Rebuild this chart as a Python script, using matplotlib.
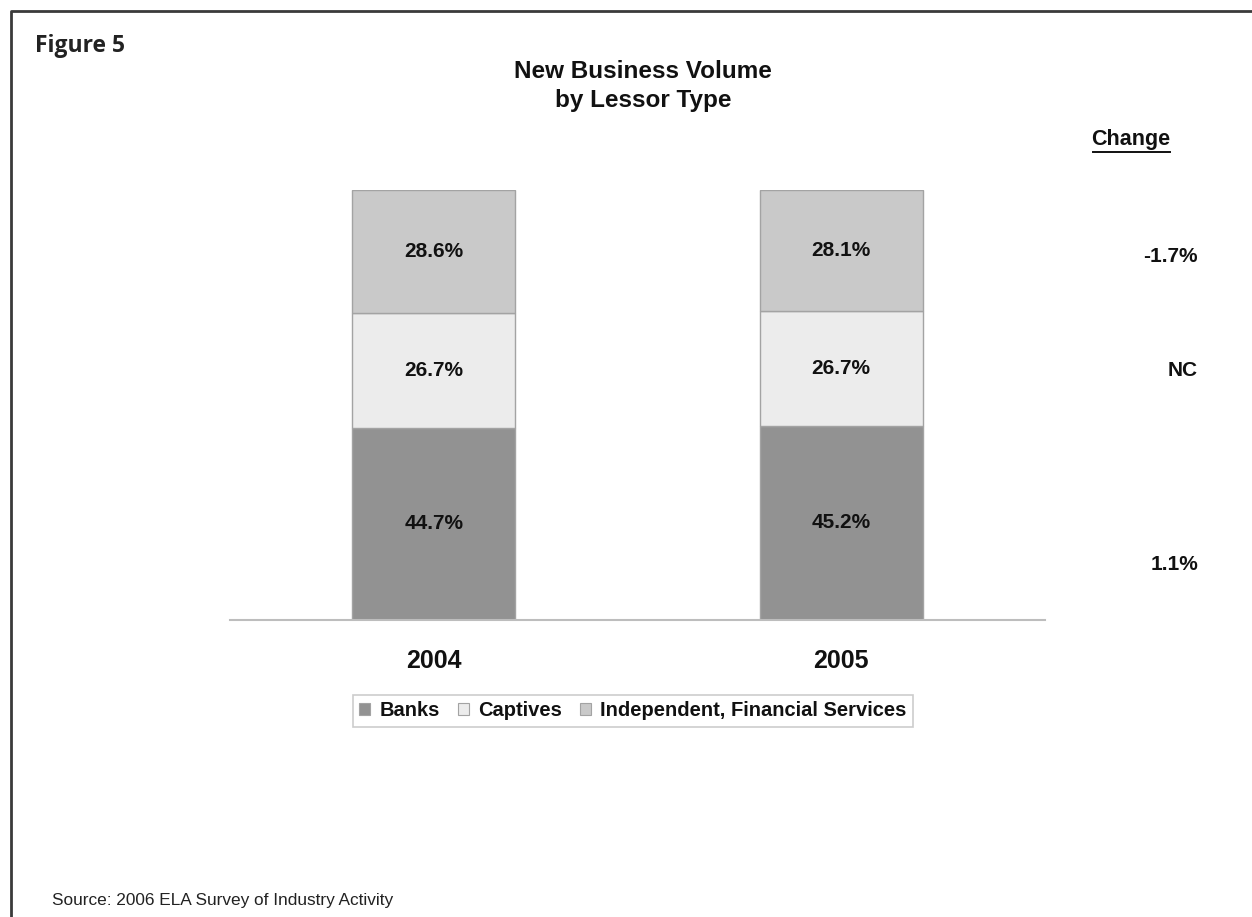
import matplotlib
matplotlib.use('Agg')
import matplotlib.pyplot as plt
from matplotlib.patches import Patch
from matplotlib.lines import Line2D

plt.rcParams['font.family'] = ['Liberation Sans', 'DejaVu Sans']

years = ['2004', '2005']
lessors = ['Banks', 'Captives', 'Independent, Financial Services']
banks = [44.7, 45.2]
captives = [26.7, 26.7]
independent = [28.6, 28.1]
colors = ['#929292', '#ececec', '#c9c9c9']

W, H = 1252, 917
fig = plt.figure(figsize=(W / 100, H / 100), dpi=100)
ax = fig.add_axes([230 / W, 1 - 620 / H, 815 / W, 430 / H])

x = range(len(years))
bottom = [0, 0]
for vals, col in zip([banks, captives, independent], colors):
    ax.bar(x, vals, width=0.40, bottom=bottom, color=col,
           edgecolor='#a3a3a3', linewidth=1.0, zorder=2)
    for i, v in enumerate(vals):
        ax.text(i, bottom[i] + v / 2, f'{v:.1f}%', ha='center', va='center',
                fontsize=15, fontweight='bold', color='#111111', zorder=3)
    bottom = [b + v for b, v in zip(bottom, vals)]

ax.set_xlim(-0.5, 1.5)
ax.set_ylim(0, 100)
ax.set_xticks(list(x))
ax.set_xticklabels(years, fontsize=18, fontweight='bold', color='#111111')
ax.tick_params(axis='x', length=0, pad=21)
ax.set_yticks([])
for s in ['top', 'right', 'left']:
    ax.spines[s].set_visible(False)
ax.spines['bottom'].set_color('#bdbdbd')
ax.spines['bottom'].set_linewidth(1.5)

# change column on the right
fig.text(1131 / W, 1 - 140 / H, 'Change', ha='center', va='center',
         fontsize=15.5, fontweight='bold', color='#111111')
fig.add_artist(Line2D([1093 / W, 1170 / W], [1 - 152 / H, 1 - 152 / H],
                      color='#111111', linewidth=1.4))
change_y = [565, 370, 257]
for series, yy in zip([banks, captives, independent], change_y):
    pct = (series[1] - series[0]) / series[0] * 100
    lab = 'NC' if abs(pct) < 0.05 else f'{pct:.1f}%'
    fig.text(1198 / W, 1 - yy / H, lab, ha='right', va='center',
             fontsize=15, fontweight='bold', color='#111111')

fig.text(643 / W, 1 - 86 / H, 'New Business Volume\nby Lessor Type',
         ha='center', va='center', fontsize=17.5, fontweight='bold',
         color='#111111', linespacing=1.3)

fig.text(35 / W, 1 - 46 / H, 'Figure 5', ha='left', va='center',
         fontsize=16.5, fontweight='bold', color='#222222',
         family=['Open Sans', 'DejaVu Sans'])

fig.text(52 / W, 1 - 900 / H, 'Source: 2006 ELA Survey of Industry Activity',
         ha='left', va='center', fontsize=12.4, color='#222222')

handles = [Patch(facecolor=c, edgecolor='#a3a3a3', linewidth=0.8) for c in colors]
leg = fig.legend(handles, lessors, loc='center', bbox_to_anchor=(633 / W, 1 - 711 / H),
                 ncol=3, frameon=True, fancybox=False, edgecolor='#c0c0c0',
                 handlelength=0.55, handleheight=0.55, handletextpad=0.45,
                 columnspacing=0.9, borderpad=0.3, borderaxespad=0,
                 prop={'size': 14.5, 'weight': 'bold'})
leg.get_frame().set_linewidth(1.2)
for t in leg.get_texts():
    t.set_color('#111111')

# outer frame (top and left edges)
fig.add_artist(Line2D([11 / W, 11 / W, 1.0], [0.0, 1 - 11 / H, 1 - 11 / H],
                      color='#3a3a3a', linewidth=2.0))

fig.savefig('out.png', dpi=100, facecolor='white')
